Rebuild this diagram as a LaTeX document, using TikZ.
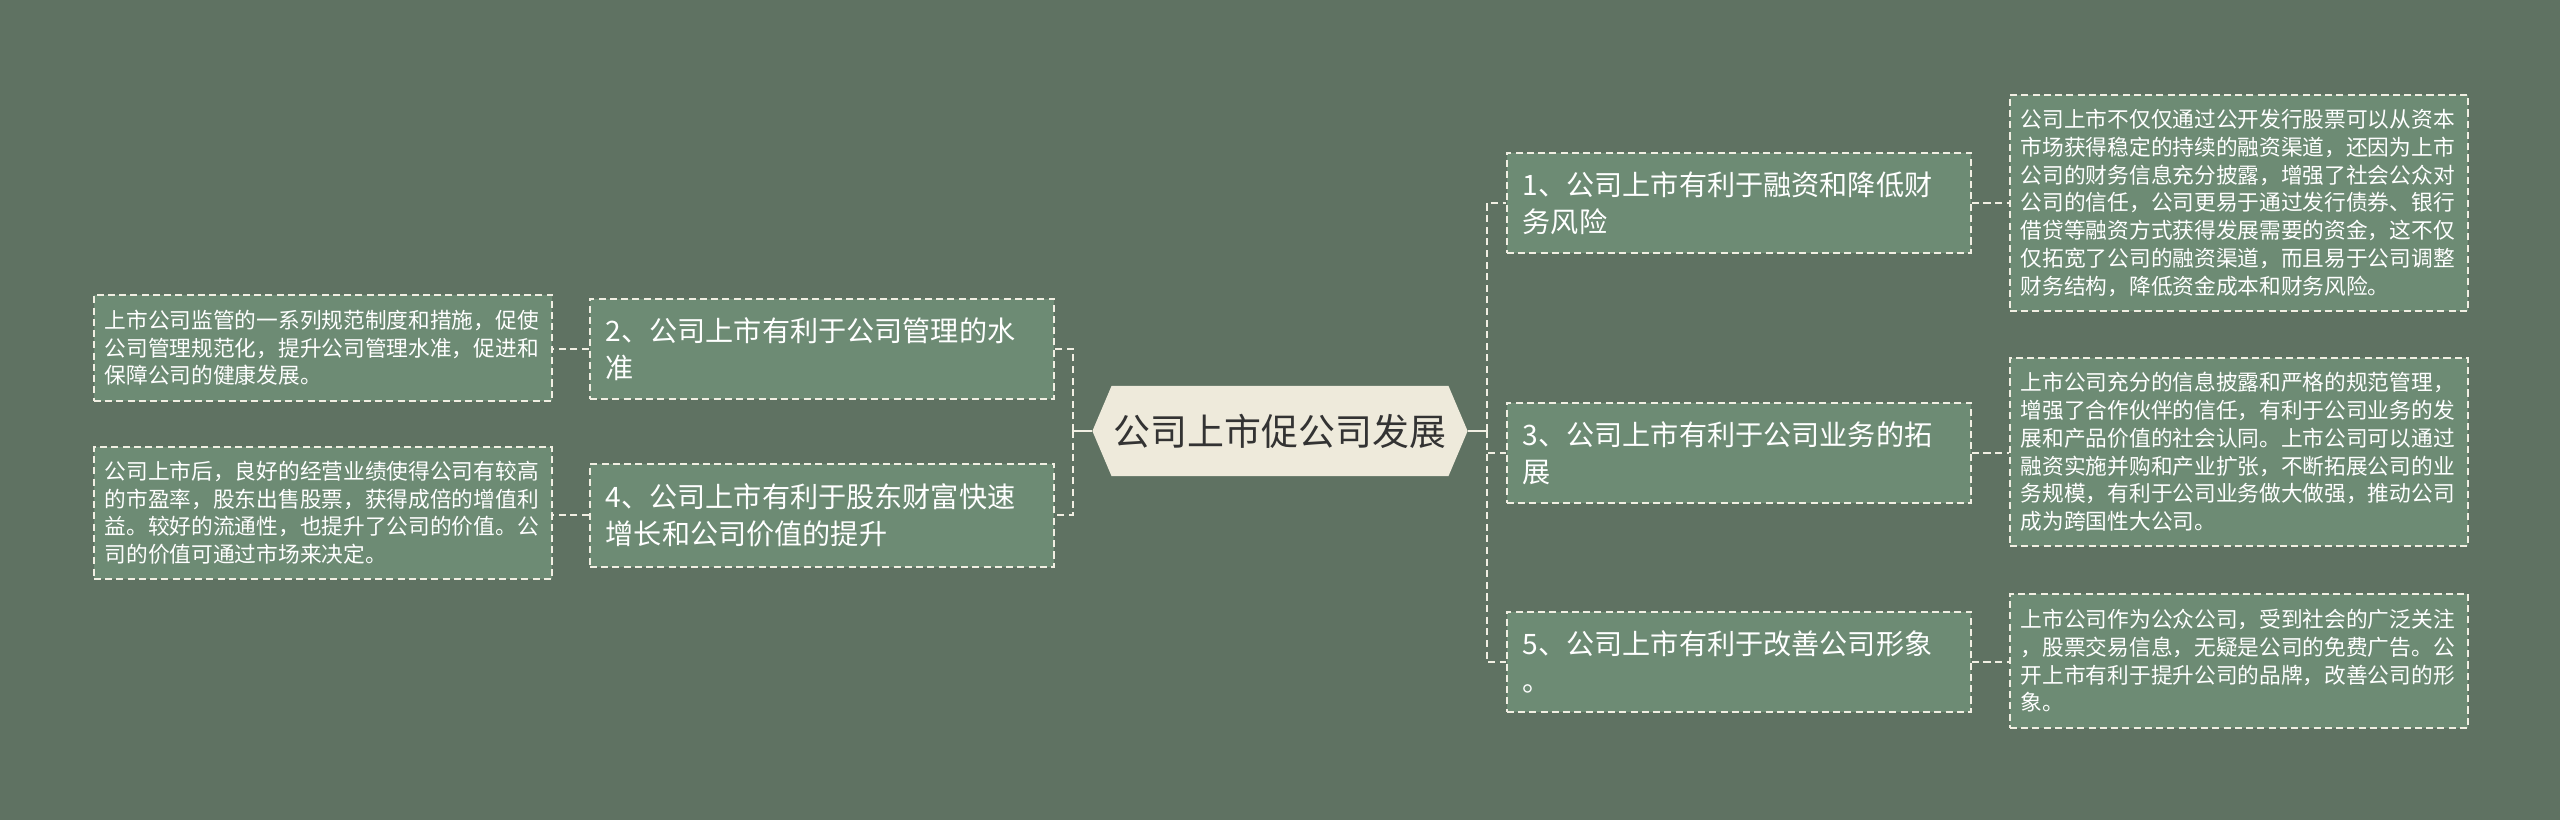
\documentclass[tikz,border=0pt]{standalone}
\usepackage{fontspec}
\setmainfont{Noto Sans CJK SC}
\usetikzlibrary{shapes.symbols}
\definecolor{bgcol}{HTML}{5F7262}
\definecolor{boxcol}{HTML}{6D8B74}
\definecolor{edgecol}{HTML}{F1EFE3}
\definecolor{rootcol}{HTML}{EEEADB}
\definecolor{rootink}{HTML}{333333}

\begin{document}
\begin{tikzpicture}[x=0.01cm, y=-0.01cm,
    root/.style={signal, signal to=west and east, signal pointer angle=134, fill=rootcol, text=rootink,
        minimum width=3.75cm, minimum height=0.9cm, inner sep=0pt, font=\fontsize{10.5pt}{12pt}\selectfont},
    topic/.style={draw=edgecol, fill=boxcol, line width=0.45pt, dash pattern=on 2pt off 1.2pt, text=white,
        anchor=north west, text width=4.32cm, inner xsep=0.16cm, inner ysep=0pt, minimum height=1cm,
        align=left, font=\fontsize{8pt}{10.5pt}\selectfont},
    detail/.style={topic, text width=4.36cm, inner xsep=0.11cm, font=\fontsize{6.17pt}{7.9pt}\selectfont},
    link/.style={edgecol, line width=0.55pt, dash pattern=on 2pt off 1.3pt},
    stem/.style={edgecol, line width=0.6pt}]
    \fill[bgcol] (0,0) rectangle (2560,820);
    \useasboundingbox (0,0) rectangle (2560,820);

    % centre
    \node[root] (root) at (1280,431) {公司上市促公司发展};
    \coordinate (jr) at (1487,431);
    \coordinate (jl) at (1073,431);

    % right branches
    \node[topic] (b1) at (1506,152) {1、公司上市有利于融资和降低财\\务风险};
    \node[topic] (b3) at (1506,402) {3、公司上市有利于公司业务的拓\\展};
    \node[topic] (b5) at (1506,611) {5、公司上市有利于改善公司形象\\。};

    % left branches
    \node[topic] (b2) at (589,298) {2、公司上市有利于公司管理的水\\准};
    \node[topic, minimum height=1.03cm] (b4) at (589,463) {4、公司上市有利于股东财富快速\\增长和公司价值的提升};

    % details
    \node[detail, minimum height=2.16cm] (d1) at (2009,94) {公司上市不仅仅通过公开发行股票可以从资本\\市场获得稳定的持续的融资渠道，还因为上市\\公司的财务信息充分披露，增强了社会公众对\\公司的信任，公司更易于通过发行债券、银行\\借贷等融资方式获得发展需要的资金，这不仅\\仅拓宽了公司的融资渠道，而且易于公司调整\\财务结构，降低资金成本和财务风险。};
    \node[detail, minimum height=1.88cm] (d3) at (2009,357) {上市公司充分的信息披露和严格的规范管理，\\增强了合作伙伴的信任，有利于公司业务的发\\展和产品价值的社会认同。上市公司可以通过\\融资实施并购和产业扩张，不断拓展公司的业\\务规模，有利于公司业务做大做强，推动公司\\成为跨国性大公司。};
    \node[detail, minimum height=1.34cm] (d5) at (2009,593) {上市公司作为公众公司，受到社会的广泛关注\\，股票交易信息，无疑是公司的免费广告。公\\开上市有利于提升公司的品牌，改善公司的形\\象。};
    \node[detail, minimum height=1.06cm] (d2) at (93,294) {上市公司监管的一系列规范制度和措施，促使\\公司管理规范化，提升公司管理水准，促进和\\保障公司的健康发展。};
    \node[detail, minimum height=1.32cm] (d4) at (93,446) {公司上市后，良好的经营业绩使得公司有较高\\的市盈率，股东出售股票，获得成倍的增值利\\益。较好的流通性，也提升了公司的价值。公\\司的价值可通过市场来决定。};

    % connectors
    \draw[stem] (root.east) -- (jr);
    \draw[stem] (root.west) -- (jl);
    \foreach \b in {b1,b3,b5}
        \draw[link] (jr) |- (\b.west);
    \foreach \b in {b2,b4}
        \draw[link] (jl) |- (\b.east);
    \foreach \b/\d in {b1/d1,b3/d3,b5/d5}
        \draw[link] (\b.east) -- (\d.west |- \b.east);
    \foreach \b/\d in {b2/d2,b4/d4}
        \draw[link] (\b.west) -- (\d.east |- \b.west);
\end{tikzpicture}
\end{document}
